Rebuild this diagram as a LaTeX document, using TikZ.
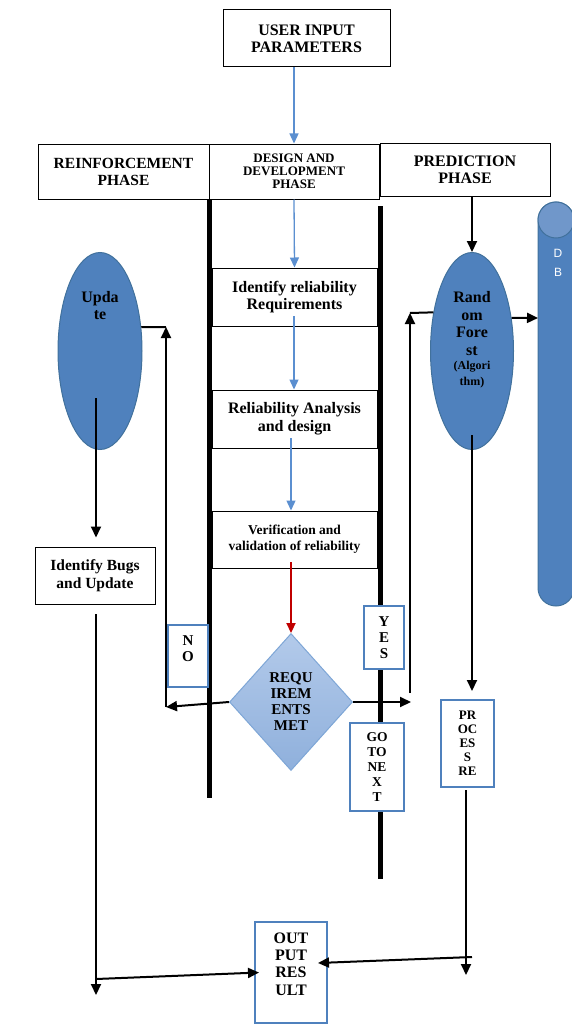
\documentclass[tikz,border=0pt]{standalone}
\usepackage{fontspec}
\setmainfont{Liberation Serif}
\newfontfamily\dbfont{Liberation Sans}
\usetikzlibrary{shapes.geometric,arrows.meta,calc}
\definecolor{accent}{HTML}{4F81BD}
\definecolor{ellborder}{HTML}{41719C}
\definecolor{caplight}{HTML}{7097CA}
\definecolor{dtop}{HTML}{B3CAEA}
\definecolor{dbot}{HTML}{8FB0DC}
\definecolor{dborder}{HTML}{7EA6D6}
\definecolor{flowblue}{HTML}{5B8FD0}
\definecolor{flowred}{HTML}{C00000}
\newcommand\myfs[2]{\fontsize{#1}{#2}\selectfont}
\begin{document}
\begin{tikzpicture}[x=1pt,y=-1pt,
  tbox/.style={draw=black, line width=1pt, fill=white, inner sep=0pt, align=center, font=\bfseries},
  bbox/.style={draw=accent, line width=2pt, fill=white, inner sep=0pt, align=center, font=\bfseries},
  ell/.style={ellipse, draw=ellborder, line width=1pt, fill=accent, inner sep=0pt},
  lbl/.style={align=center, font=\bfseries, inner sep=0pt},
  arr/.style={line width=2pt, -{Triangle[length=11pt,width=10pt]}},
  plain/.style={line width=2pt},
  bluearr/.style={draw=flowblue, line width=1.3pt, -{Triangle[length=10pt,width=9pt]}},
  redarr/.style={draw=flowred, line width=2.2pt, -{Triangle[length=10pt,width=9pt]}},
  lane/.style={line width=5pt}
]
\useasboundingbox (0,0) rectangle (571,1030);

% lane dividers
\draw[lane] (209,199) -- (209,798);
\draw[lane] (380,206) -- (380,879);

% DB cylinder
\filldraw[fill=accent, draw=ellborder, line width=1pt] (538,220) -- (538,588)
  arc[start angle=180, end angle=360, x radius=18pt, y radius=18pt] -- (574,220)
  arc[start angle=0, end angle=180, x radius=18pt, y radius=18pt] -- cycle;
\filldraw[fill=caplight, draw=ellborder, line width=1pt] (556,220) ellipse [x radius=18pt, y radius=18pt];
\node[font=\dbfont\myfs{12}{19}, text=white, align=center, inner sep=0pt] (db) at (558,262.5) {D\\B};

% top
\node[tbox, minimum width=167pt, minimum height=57pt, font=\bfseries\myfs{16}{17}] (user) at (306.5,38.5) {USER INPUT\\PARAMETERS};

% headers
\node[tbox, minimum width=171pt, minimum height=55pt, font=\bfseries\myfs{15.5}{17}] (reinf) at (123.5,171.5) {REINFORCEMENT\\PHASE};
\node[tbox, minimum width=170pt, minimum height=55pt, font=\bfseries\myfs{13}{13}] (design) at (294,171.5) {DESIGN AND\\DEVELOPMENT\\PHASE};
\node[tbox, minimum width=170pt, minimum height=53pt, font=\bfseries\myfs{16}{17}] (pred) at (465,169.5) {PREDICTION\\PHASE};

% middle lane boxes
\node[tbox, minimum width=165pt, minimum height=58pt, font=\bfseries\myfs{16}{17}] (req1) at (294.5,297) {Identify reliability\\Requirements};
\node[tbox, minimum width=165pt, minimum height=58pt, font=\bfseries\myfs{16}{18}] (req2) at (294.5,419) {Reliability Analysis\\and design};
\node[tbox, minimum width=165pt, minimum height=57pt, font=\bfseries\myfs{13.5}{16}] (req3) at (294.5,539.5) {Verification and\\validation of reliability};

% decision
\node[diamond, draw=dborder, line width=1pt, top color=dtop, bottom color=dbot,
      minimum width=123pt, minimum height=137pt, inner sep=0pt, align=center,
      font=\bfseries\myfs{15}{16}] (dec) at (291,702) {REQU\\IREM\\ENTS\\MET};

% left lane
\node[ell, minimum width=84pt, minimum height=197pt] (upd) at (100,351) {};
\node[lbl, font=\bfseries\myfs{16}{17}] (updtxt) at (100,305.5) {Upda\\te};
\node[tbox, minimum width=120pt, minimum height=57pt, font=\bfseries\myfs{15.5}{18}] (bugs) at (95,575.5) {Identify Bugs\\and Update};

% right lane
\node[ell, minimum width=83pt, minimum height=197pt] (rf) at (472,351) {};
\node[lbl, font=\bfseries\myfs{16}{17.7}] (rftxt) at (472,323.5) {Rand\\om\\Fore\\st};
\node[lbl, font=\bfseries\myfs{12}{16}] (algtxt) at (472,375) {(Algori\\thm)};

% blue-bordered label boxes
\node[bbox, minimum width=40pt, minimum height=62pt] (no) at (188,656) {};
\node[lbl, font=\bfseries\myfs{15}{16}] (notxt) at (188,649) {N\\O};
\node[bbox, minimum width=40pt, minimum height=63pt, font=\bfseries\myfs{15}{16}] (yes) at (384,637.5) {Y\\E\\S};
\node[bbox, minimum width=54pt, minimum height=88pt, font=\bfseries\myfs{13.5}{15}] (gonext) at (377,767) {GO\\TO\\NE\\X\\T};
\node[bbox, minimum width=53pt, minimum height=87pt, font=\bfseries\myfs{13}{14}] (proc) at (467.5,743.5) {PR\\OC\\ES\\S\\RE};
\node[bbox, minimum width=72pt, minimum height=101pt] (output) at (291,972.5) {};
\node[lbl, font=\bfseries\myfs{16}{17.3}] (outtxt) at (291,964) {OUT\\PUT\\RES\\ULT};

% coordinates for free ends
\coordinate (a1) at (294,316);
\coordinate (a2) at (291,438);
\coordinate (a3) at (291,562);
\coordinate (nocorner) at (166,707);
\coordinate (notop) at (166,327);
\coordinate (yescorner) at (411,702);
\coordinate (yesbot) at (410,693);
\coordinate (yestop) at (410,313);
\coordinate (dbL) at (538,318);
\coordinate (rfin) at (472,435);
\coordinate (updin) at (96,398);
\coordinate (bugsout) at (96,614);
\coordinate (bugsend) at (96,995);
\coordinate (lb) at (96,979);
\coordinate (procout) at (466,790);
\coordinate (procend) at (466,975);
\coordinate (rb) at (472,957);

% design flow
\draw[bluearr] (design.north |- user.south) -- (design.north);
\draw[bluearr] (design.south) -- (req1.north);
\draw[bluearr] (a1) -- (req2.north -| a1);
\draw[bluearr] (a2) -- (req3.north -| a2);
\draw[redarr] (a3) -- (dec.north);

% NO loop
\draw[arr] (dec.west) -- (nocorner);
\draw[arr] (nocorner) -- (notop);
\draw[plain] (notop) -- (upd.30);

% YES loop
\draw[arr] (dec.east) -- (yescorner);
\draw[arr] (yesbot) -- (yestop);
\draw[plain] (yestop) -- (rf.135);

% prediction lane
\draw[arr] (rf.north |- pred.south) -- (rf.north);
\draw[arr] (rf.40) -- (dbL);
\draw[arr, shorten >=8pt] (rfin) -- (proc.north -| rfin);
\draw[arr] (procout) -- (procend);
\draw[arr] (rb) -- ([xshift=-10pt,yshift=9.5pt]output.east);

% reinforcement lane
\draw[arr, shorten >=9pt] (updin) -- (bugs.north -| updin);
\draw[arr] (bugsout) -- (bugsend);
\draw[arr] (lb) -- ([xshift=5pt]output.west);
\end{tikzpicture}
\end{document}
